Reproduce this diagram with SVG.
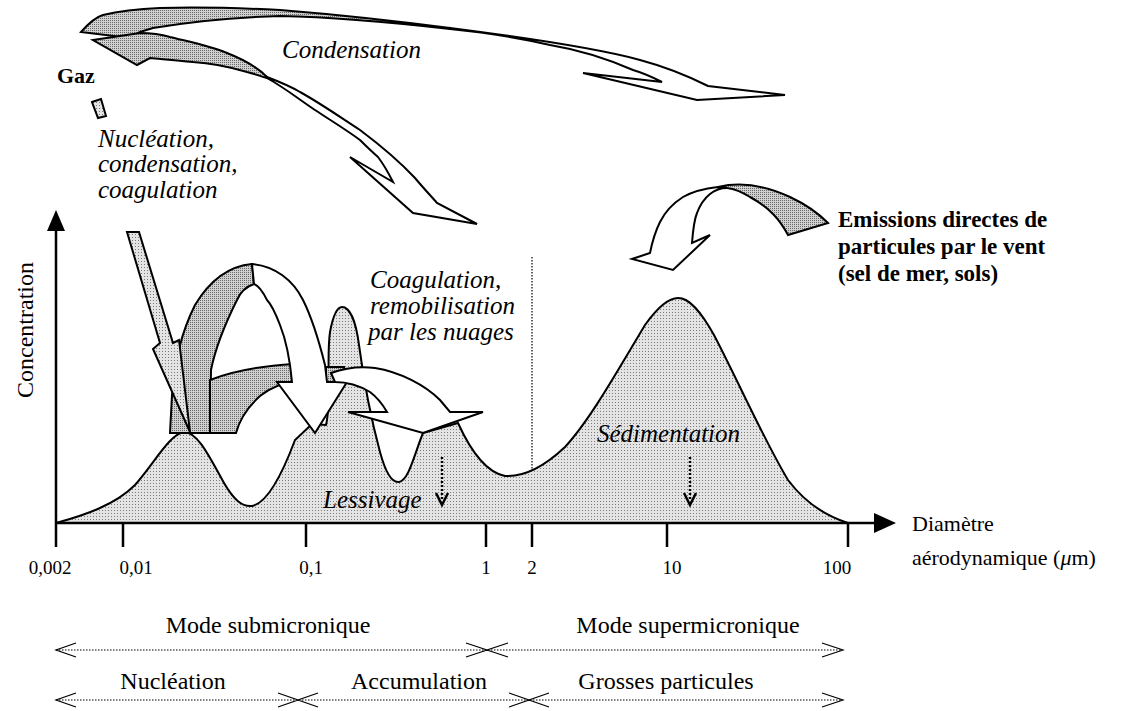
<svg xmlns="http://www.w3.org/2000/svg" width="1135" height="711" viewBox="0 0 1135 711">
<defs>
<pattern id="light" width="3" height="3" patternUnits="userSpaceOnUse"><rect width="3" height="3" fill="#e4e4e4"/><rect width="1" height="1" fill="#7a7a7a"/></pattern>
<pattern id="dark" width="2" height="2" patternUnits="userSpaceOnUse"><rect width="2" height="2" fill="#d0d0d0"/><rect width="1" height="1" fill="#6a6a6a"/></pattern>
<style>
.ol{stroke:#000;stroke-width:2;stroke-linejoin:miter;fill:#fff}
.g{fill:url(#dark)}
.lt{fill:url(#light)}
.t{font-family:"Liberation Serif","Times New Roman",serif;fill:#000}
.it{font-style:italic}
.b{font-weight:bold}
.ax{stroke:#000;stroke-width:2.5;fill:none}
.dot{stroke:#000;stroke-width:1.2;stroke-dasharray:1.5 1.5;fill:none}
.thin{stroke:#000;stroke-width:1.2;fill:none}
</style>
</defs>
<rect width="1135" height="711" fill="#fff"/>

<g id="distribution">
<path class="lt" stroke="#000" stroke-width="2" d="M56,523 C85,515 115,505 135,485 C155,462 170,434 184,432 C198,432 210,458 224,483 C234,500 242,507 252,506 C268,503 283,472 295,440 L312,424 L326,425 C332,400 326,360 330,332 C333,316 337,307 342,307 C350,307 356,322 359,345 C363,375 370,415 380,452 C386,474 392,483 399,482 C409,480 414,455 423,433 L458,423 C468,445 484,472 505,476 C525,477 546,465 565,447 C590,420 618,370 645,325 C660,304 670,298 678,298 C689,298 700,310 714,335 C740,385 764,440 788,480 C803,500 823,515 848,523 Z"/>
<path class="dot" d="M532,257 V470"/>
</g>

<g id="axes">
<path class="ax" d="M56,523 V225"/>
<path d="M56,210 L47,231 L65,231 Z" fill="#000"/>
<path class="ax" d="M56,523 H878"/>
<path d="M896,523 L874,513 L874,533 Z" fill="#000"/>
<path class="ax" d="M56,523 V547 M123,523 V547 M306,523 V547 M486,523 V547 M532,523 V547 M667,523 V547 M848,523 V547"/>
</g>

<g id="tick-labels" class="t" font-size="19" text-anchor="middle">
<text x="50" y="574">0,002</text>
<text x="136" y="574">0,01</text>
<text x="311" y="574">0,1</text>
<text x="486" y="574">1</text>
<text x="532" y="574">2</text>
<text x="672" y="574">10</text>
<text x="837" y="574">100</text>
</g>

<g id="axis-titles" class="t" font-size="22">
<text x="912" y="531">Diamètre</text>
<text x="912" y="565">aérodynamique (<tspan class="it">μ</tspan>m)</text>
<text transform="translate(33,330) rotate(-90)" text-anchor="middle" font-size="24">Concentration</text>
</g>

<g id="removal-arrows">
<path stroke="#000" stroke-width="2.5" stroke-dasharray="2 2" fill="none" d="M442,457 V500 M690,457 V500"/>
<path stroke="#000" stroke-width="2.5" fill="none" d="M436,493 L442,505 L448,493 M684,493 L690,505 L696,493"/>
</g>

<g id="plot-labels" class="t it" font-size="25">
<text x="597" y="442">Sédimentation</text>
<text x="323" y="508">Lessivage</text>
</g>

<g id="gaz-arrow-tail">
<path class="lt" stroke="#000" stroke-width="2" d="M92,102 L101,99 L106,116 L98,118 Z"/>
</g>

<g id="coagulation-arrows">
<path class="ol g" d="M170,433 L172,395 C174,365 180,335 195,305 C210,280 230,266 252,264 L254,284 C245,287 240,293 237,300 C228,318 216,345 211,370 L210,433 Z"/>
<path class="ol g" d="M210,433 L210,380 C230,372 260,366 294,364 L294,382 C283,383 270,388 260,396 C250,405 240,418 236,433 Z"/>
<path class="ol g" d="M326,367 L344,367 L347,382 L326,382 Z"/>
<path class="ol" d="M252,264 C275,266 293,280 303,300 C313,320 320,345 325,365 L327,382 L347,382 L315,433 L277,382 L292,382 C290,360 286,340 280,325 C275,312 270,303 267,300 C263,292 259,286 254,284 Z"/>
<path class="ol" d="M331,373 C345,368 360,366 375,368 C400,372 425,385 440,400 L450,412 L483,412 L423,433 L348,412 L387,412 C383,405 378,398 370,392 C360,386 348,382 335,382 Z"/>
</g>

<g id="nucleation-arrow">
<path class="lt" stroke="#000" stroke-width="2" d="M127,232 L139,232 L173,343 L179,340 L190,432 L153,349 L160,343 Z"/>
</g>

<g id="condensation-arrows">
<path class="ol g" d="M81,32 C88,24 96,17 103,15 C120,11 140,9 160,8 C200,7 240,8 280,10 C330,14 380,19 450,28 L450,29 C380,21 330,17 280,16 C240,17 200,20 153,28 L140,32 L130,38 Z"/>
<path class="ol" d="M450,28 C520,37 600,49 640,60 C670,68 690,77 708,86 L785,95 L697,100 L583,73 L662,82 C650,76 640,72 633,70 C610,60 580,50 550,45 C520,38 480,32 450,29 Z"/>
<path class="ol g" d="M93,40 L140,33 C150,33 160,34 170,37 C190,42 210,46 227,53 C245,60 258,68 267,77 L267,78 C260,76 255,74 247,72 C230,67 210,63 193,62 C175,60 160,59 150,58 L137,65 Z"/>
<path class="ol" d="M267,77 C280,82 290,86 300,92 C320,103 340,117 360,130 C380,145 400,162 415,178 C425,190 432,197 437,203 L477,224 L413,213 L350,157 L393,182 C388,172 384,165 378,157 C370,150 365,145 360,140 C345,129 330,120 315,110 C300,100 285,88 267,78 Z"/>
</g>

<g id="emission-arrow">
<path class="ol g" d="M718,187 C735,183 760,183 790,197 C805,204 818,213 828,223 L788,235 C780,220 770,208 750,197 C742,192 735,189 727,188 Z"/>
<path class="ol" d="M718,187 C700,189 690,193 683,197 C672,204 665,212 660,222 C655,232 652,243 650,253 L632,259 L673,270 L710,235 L692,243 C693,230 694,220 697,213 C700,205 705,198 710,194 C715,190 722,188 727,188 Z"/>
</g>

<g id="labels" class="t">
<text class="b" x="57" y="83" font-size="22">Gaz</text>
<g class="it" font-size="25">
<text x="282" y="58">Condensation</text>
<text x="98" y="147">Nucléation,</text>
<text x="98" y="172">condensation,</text>
<text x="98" y="198">coagulation</text>
<text x="370" y="288">Coagulation,</text>
<text x="370" y="314">remobilisation</text>
<text x="368" y="340">par les nuages</text>
</g>
<g class="b" font-size="23">
<text x="838" y="227">Emissions directes de</text>
<text x="838" y="254">particules par le vent</text>
<text x="838" y="281">(sel de mer, sols)</text>
</g>
</g>

<g id="modes">
<path class="dot" d="M56,650 H486 M488,650 H842 M56,700 H297 M299,700 H528 M530,700 H842"/>
<path class="thin" d="M76,643 L56,650 L76,657 M466,643 L487,650 L466,657 M508,643 L487,650 L508,657 M822,643 L843,650 L822,657"/>
<path class="thin" d="M76,693 L56,700 L76,707 M278,693 L298,700 L278,707 M318,693 L298,700 L318,707 M509,693 L529,700 L509,707 M549,693 L529,700 L549,707 M822,693 L843,700 L822,707"/>
<g class="t" font-size="24" text-anchor="middle">
<text x="268" y="633">Mode submicronique</text>
<text x="688" y="633">Mode supermicronique</text>
<text x="173" y="689">Nucléation</text>
<text x="419" y="689">Accumulation</text>
<text x="666" y="689">Grosses particules</text>
</g>
</g>
</svg>
